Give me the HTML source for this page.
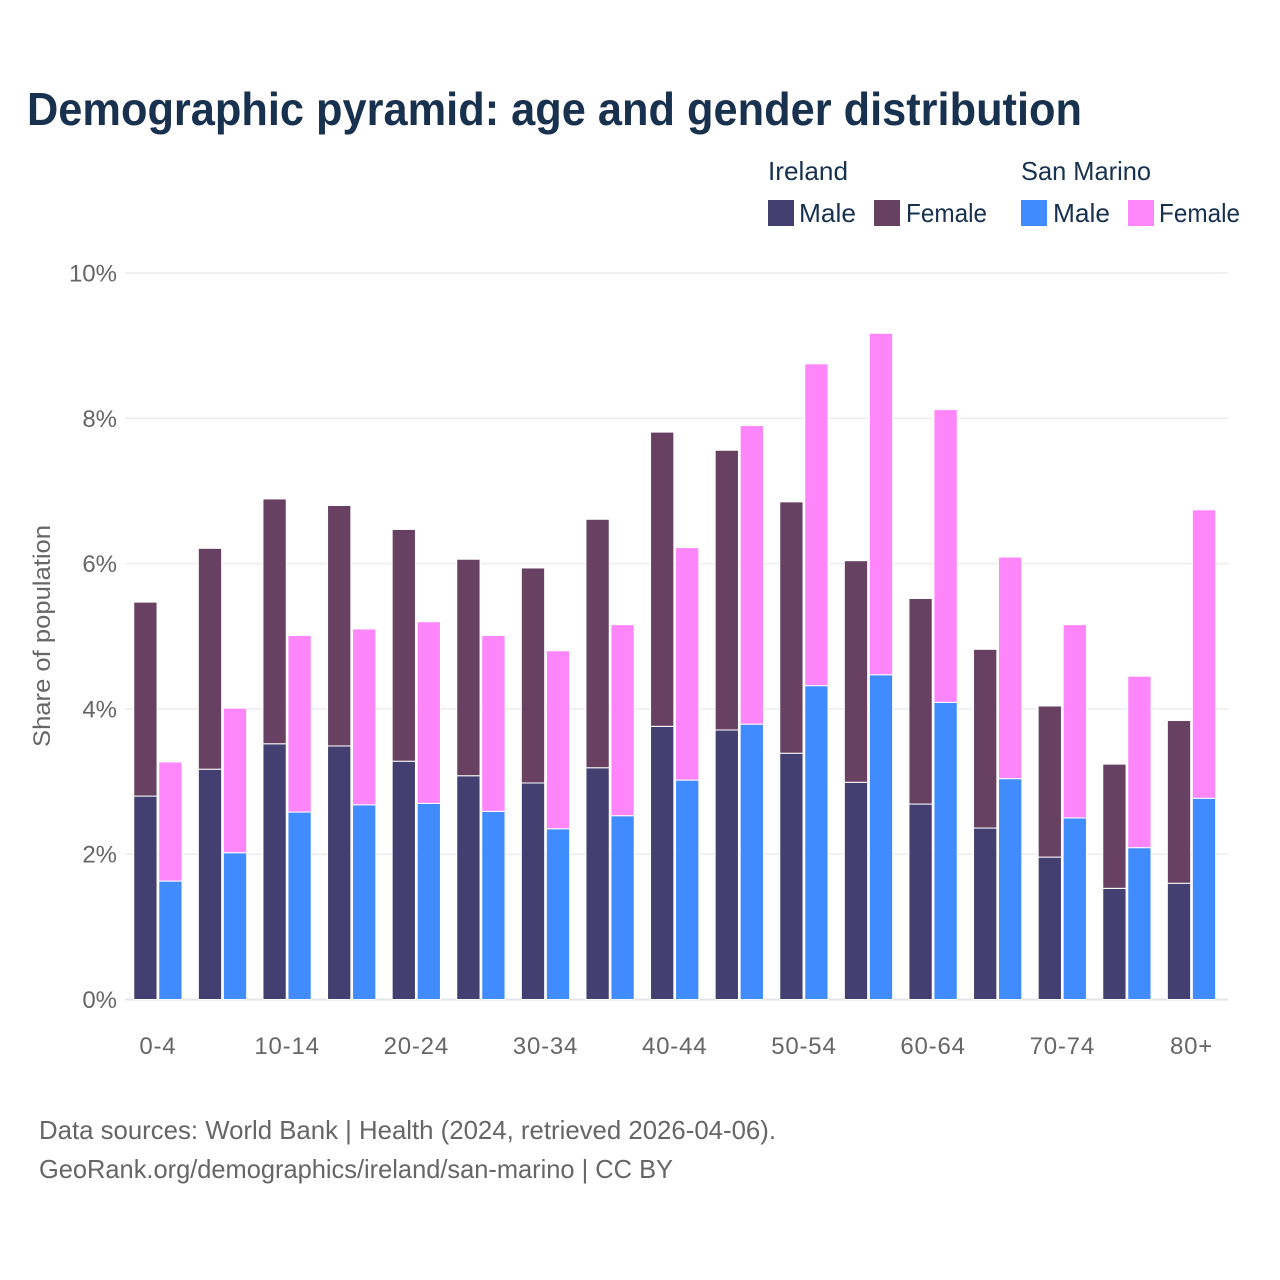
<!DOCTYPE html>
<html lang="en">
<head>
<meta charset="utf-8">
<title>Demographic pyramid: age and gender distribution</title>
<style>
html,body{margin:0;padding:0;background:#fff;}
svg{display:block;font-family:"Liberation Sans",sans-serif;}
</style>
</head>
<body>
<svg id="chart" xmlns="http://www.w3.org/2000/svg" width="1280" height="1280" viewBox="0 0 1280 1280">
  <rect x="0" y="0" width="1280" height="1280" fill="#ffffff"/>
  <text x="27" y="125" font-size="46" font-weight="700" fill="#18314f" textLength="1055" lengthAdjust="spacingAndGlyphs">Demographic pyramid: age and gender distribution</text>

  <g font-size="26" fill="#18314f">
    <text x="768" y="180" textLength="80" lengthAdjust="spacingAndGlyphs">Ireland</text>
    <text x="1021" y="180" textLength="130" lengthAdjust="spacingAndGlyphs">San Marino</text>
    <rect x="768" y="200" width="26" height="26" fill="#433f70"/>
    <text x="799" y="222" textLength="57" lengthAdjust="spacingAndGlyphs">Male</text>
    <rect x="874" y="200" width="26" height="26" fill="#684162"/>
    <text x="906" y="222" textLength="81" lengthAdjust="spacingAndGlyphs">Female</text>
    <rect x="1021" y="200" width="26" height="26" fill="#408cff"/>
    <text x="1053" y="222" textLength="57" lengthAdjust="spacingAndGlyphs">Male</text>
    <rect x="1128" y="200" width="26" height="26" fill="#ff85fa"/>
    <text x="1159" y="222" textLength="81" lengthAdjust="spacingAndGlyphs">Female</text>
  </g>

  <g id="grid"></g>
  <g id="yticks" font-size="24" fill="#666666" text-anchor="end"></g>
  <g id="bars"></g>
  <g id="xticks" font-size="24" fill="#666666" text-anchor="middle" letter-spacing="0.8"></g>

  <text transform="translate(50,636) rotate(-90)" font-size="24" fill="#666666" text-anchor="middle" textLength="222" lengthAdjust="spacingAndGlyphs">Share of population</text>

  <text x="39" y="1139" font-size="26" fill="#666666" textLength="737" lengthAdjust="spacingAndGlyphs">Data sources: World Bank | Health (2024, retrieved 2026-04-06).</text>
  <text x="39" y="1178" font-size="26" fill="#666666" textLength="634" lengthAdjust="spacingAndGlyphs">GeoRank.org/demographics/ireland/san-marino | CC BY</text>
</svg>
<script>
const categories = ["0-4","5-9","10-14","15-19","20-24","25-29","30-34","35-39","40-44","45-49","50-54","55-59","60-64","65-69","70-74","75-79","80+"];
const irelandMale = [2.80,3.17,3.52,3.49,3.28,3.08,2.98,3.19,3.76,3.71,3.39,2.99,2.69,2.36,1.96,1.53,1.60];
const irelandFemale = [2.67,3.04,3.37,3.31,3.19,2.98,2.96,3.42,4.05,3.85,3.46,3.05,2.83,2.46,2.08,1.71,2.24];
const sanMarinoMale = [1.63,2.02,2.58,2.68,2.70,2.59,2.35,2.53,3.02,3.79,4.32,4.47,4.09,3.04,2.50,2.09,2.77];
const sanMarinoFemale = [1.64,1.99,2.43,2.42,2.50,2.42,2.45,2.63,3.20,4.11,4.43,4.70,4.03,3.05,2.66,2.36,3.97];
const yTicks = [0,2,4,6,8,10];
const NS = "http://www.w3.org/2000/svg";
const y = v => 999.5 - v * 72.65;
const xCenter = i => 157.9 + i * 64.6;
const barW = 23.3;
const barGap = 1.7;
function make(tag, attrs, parent, text) {
  const el = document.createElementNS(NS, tag);
  for (const k in attrs) el.setAttribute(k, attrs[k]);
  if (text !== undefined) el.textContent = text;
  parent.appendChild(el);
  return el;
}
const grid = document.getElementById("grid");
const yt = document.getElementById("yticks");
yTicks.forEach(t => {
  const line = make("line", {x1:125, x2:1228, y1:y(t), y2:y(t), stroke: t === 0 ? "#e4e4ea" : "#ececf0", "stroke-width": t === 0 ? 2 : 1.5}, grid);
  
  
  const label = make("text", {x:117, y:y(t) + 8.5}, yt, t + "%");
  
  
});
const barsG = document.getElementById("bars");
function bar(x, v0, v1, fill, name) {
  const r = make("rect", {x:x, y:y(v1), width:barW, height:y(v0) - y(v1), fill:fill, stroke:"#ffffff", "stroke-width":1}, barsG);
  
  
}
const xt = document.getElementById("xticks");
categories.forEach((c, i) => {
  const left = xCenter(i) - barGap / 2 - barW;
  const right = xCenter(i) + barGap / 2;
  bar(left, 0, irelandMale[i], "#433f70", "bar-ireland-male-" + c);
  bar(left, irelandMale[i], irelandMale[i] + irelandFemale[i], "#684162", "bar-ireland-female-" + c);
  bar(right, 0, sanMarinoMale[i], "#408cff", "bar-san-marino-male-" + c);
  bar(right, sanMarinoMale[i], sanMarinoMale[i] + sanMarinoFemale[i], "#ff85fa", "bar-san-marino-female-" + c);
  if (i % 2 === 0) {
    const label = make("text", {x:xCenter(i), y:1054}, xt, c);
    
    
  }
});
</script>
</body>
</html>
